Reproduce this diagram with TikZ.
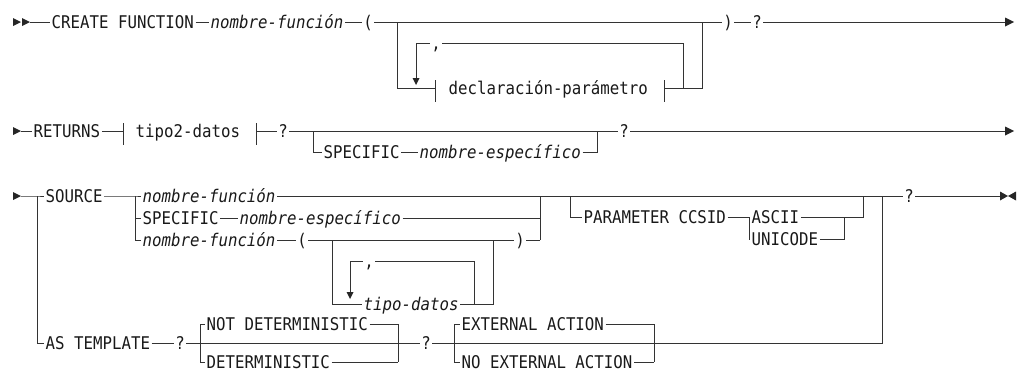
\documentclass[tikz,border=0pt]{standalone}
\usepackage{fontspec}
\newfontfamily\rr[FakeStretch=0.9]{DejaVu Sans Mono}
\begin{document}
\begin{tikzpicture}[x=1pt,y=-1pt]
\tikzset{
 rail/.style={line width=0.9pt, draw=black!80},
 kw/.style={font=\rr\fontsize{17.5}{17.5}\selectfont, text=black!90, inner xsep=1.5pt, inner ysep=0pt, text height=12.8pt, text depth=0pt, anchor=west},
 var/.style={kw, font=\rr\fontsize{17.5}{17.5}\selectfont\itshape},
 sym/.style={kw, anchor=center},
 tri/.style={fill=black!85, draw=none},
}
\useasboundingbox (0,0) rectangle (1022,373);
% ---------------- Row 1
\fill[tri] (13,18)--(21,22)--(13,26)--cycle;
\fill[tri] (22,18)--(30,22)--(22,26)--cycle;
\coordinate (s1) at (30,22);
\node[kw] (cf) at (50,22) {CREATE FUNCTION};
\node[var] (nf) at (209,22) {nombre-función};
\node[sym] (lp) at (368,22) {(};
\coordinate (a1) at (397,22);
\coordinate (b1) at (702,22);
\node[sym] (rp) at (728,22) {)};
\node[sym] (q1) at (757,22) {?};
\coordinate (e1) at (1005,22);
\fill[tri] (1005,17.5)--(1014,22)--(1005,26.5)--cycle;
\draw[rail] (s1)--(cf.west) (cf.east)--(nf.west) (nf.east)--(lp.west)
  (lp.east)--(rp.west) (rp.east)--(q1.west) (q1.east)--(e1);
\coordinate (a1d) at (397,88);
\coordinate (lbk) at (435,88);
\node[kw] (dp) at (447,88) {declaración-parámetro};
\coordinate (rbk) at (664,88);
\coordinate (b1d) at (702,88);
\draw[rail] (a1)--(a1d)--(lbk) (rbk)--(b1d)--(b1);
\draw[rail] (435,80)--(435,102) (664,80)--(664,102);
\coordinate (lt) at (416,43);
\coordinate (lb) at (416,79);
\node[sym] (cm1) at (436,43) {,};
\coordinate (rt) at (683,43);
\coordinate (rb) at (683,88);
\draw[rail] (lb)--(lt)--(cm1.west) (cm1.east)--(rt)--(rb);
\fill[tri] (412.5,78)--(419.5,78)--(416,85)--cycle;
% ---------------- Row 2
\fill[tri] (13,127)--(21,131)--(13,135)--cycle;
\coordinate (s2) at (21,131);
\node[kw] (ret) at (32,131) {RETURNS};
\coordinate (lb2) at (123,131);
\node[kw] (t2) at (134,131) {tipo2-datos};
\coordinate (rb2) at (256,131);
\draw[rail] (123,123)--(123,145) (256,123)--(256,145);
\node[sym] (q2) at (283,131) {?};
\coordinate (a2) at (313,131);
\coordinate (a2d) at (313,152);
\node[kw] (sp2) at (322,152) {SPECIFIC};
\node[var] (ne2) at (418,152) {nombre-específico};
\coordinate (b2d) at (597,152);
\coordinate (b2) at (597,131);
\node[sym] (q3) at (624,131) {?};
\coordinate (e2) at (1005,131);
\fill[tri] (1005,126.5)--(1014,131)--(1005,135.5)--cycle;
\draw[rail] (s2)--(ret.west) (ret.east)--(lb2) (rb2)--(q2.west) (q2.east)--(q3.west)
  (q3.east)--(e2) (a2)--(a2d)--(sp2.west) (sp2.east)--(ne2.west) (ne2.east)--(b2d)--(b2);
% ---------------- Row 3
\fill[tri] (13,192)--(21,196)--(13,200)--cycle;
\coordinate (s3) at (21,196);
\coordinate (j0) at (37,196);
\coordinate (j0d) at (37,343);
\node[kw] (src) at (44,196) {SOURCE};
\coordinate (j1) at (135,196);
\coordinate (j1b) at (135,218);
\coordinate (j1c) at (135,240);
\node[var] (nf3) at (141,196) {nombre-función};
\node[kw] (sp3) at (141,218) {SPECIFIC};
\node[var] (ne3) at (238,218) {nombre-específico};
\node[var] (nf4) at (141,240) {nombre-función};
\node[sym] (lp3) at (302,240) {(};
\coordinate (m1) at (332,240);
\coordinate (m1d) at (332,304);
\node[var] (td) at (362,304) {tipo-datos};
\coordinate (ll) at (350,261);
\coordinate (llb) at (350,293);
\node[sym] (cm2) at (369,261) {,};
\coordinate (lr) at (474,261);
\coordinate (lrb) at (474,304);
\coordinate (m2d) at (493,304);
\coordinate (m2) at (493,240);
\node[sym] (rp3) at (520,240) {)};
\coordinate (k1) at (540,196);
\coordinate (k2) at (540,218);
\coordinate (k3) at (540,240);
\coordinate (p1) at (570,196);
\coordinate (p1d) at (570,217);
\node[kw] (pc) at (582,217) {PARAMETER CCSID};
\coordinate (c1) at (749,217);
\coordinate (c1d) at (749,239);
\node[kw] (asc) at (750,217) {ASCII};
\node[kw] (uni) at (750,239) {UNICODE};
\coordinate (c2) at (863,217);
\coordinate (c2u) at (863,196);
\coordinate (c3) at (844,239);
\coordinate (c3u) at (844,217);
\coordinate (z1) at (882,196);
\node[sym] (q4) at (909,196) {?};
\coordinate (e3) at (1000,196);
\fill[tri] (1000,191.5)--(1008,196)--(1000,200.5)--cycle;
\fill[tri] (1016,191.5)--(1008,196)--(1016,200.5)--cycle;
\draw[rail] (s3)--(j0)--(src.west) (j0)--(j0d) (src.east)--(j1)--(nf3.west) (j1)--(j1c)
  (j1b)--(sp3.west) (sp3.east)--(ne3.west) (j1c)--(nf4.west) (nf4.east)--(lp3.west)
  (lp3.east)--(rp3.west) (m1)--(m1d)--(td.west) (td.east)--(m2d)--(m2)
  (llb)--(ll)--(cm2.west) (cm2.east)--(lr)--(lrb)
  (nf3.east)--(k1) (ne3.east)--(k2) (rp3.east)--(k3) (k3)--(k1)--(z1)
  (p1)--(p1d)--(pc.west) (pc.east)--(asc.west) (c1)--(c1d)--(uni.west)
  (asc.east)--(c2)--(c2u) (uni.east)--(c3)--(c3u)
  (z1)--(q4.west) (q4.east)--(e3);
\fill[tri] (346.5,292)--(353.5,292)--(350,299)--cycle;
% AS TEMPLATE row
\node[kw] (ast) at (44,343) {AS TEMPLATE};
\node[sym] (q5) at (180,343) {?};
\coordinate (d1u) at (200,324);
\coordinate (d1d) at (200,362);
\node[kw] (nd) at (205,324) {NOT DETERMINISTIC};
\node[kw] (dt) at (205,362) {DETERMINISTIC};
\coordinate (d2u) at (398,324);
\coordinate (d2d) at (398,362);
\node[sym] (q6) at (426,343) {?};
\coordinate (x1u) at (454,324);
\coordinate (x1d) at (454,362);
\node[kw] (ea) at (460,324) {EXTERNAL ACTION};
\node[kw] (nea) at (460,362) {NO EXTERNAL ACTION};
\coordinate (x2u) at (654,324);
\coordinate (x2d) at (654,362);
\coordinate (z2) at (882,343);
\draw[rail] (j0d)--(ast.west) (ast.east)--(q5.west) (q5.east)--(q6.west) (q6.east)--(z2)--(z1)
  (d1u)--(d1d) (d1u)--(nd.west) (nd.east)--(d2u)--(d2d) (d1d)--(dt.west) (dt.east)--(d2d)
  (x1u)--(x1d) (x1u)--(ea.west) (ea.east)--(x2u)--(x2d) (x1d)--(nea.west) (nea.east)--(x2d);
\end{tikzpicture}
\end{document}
